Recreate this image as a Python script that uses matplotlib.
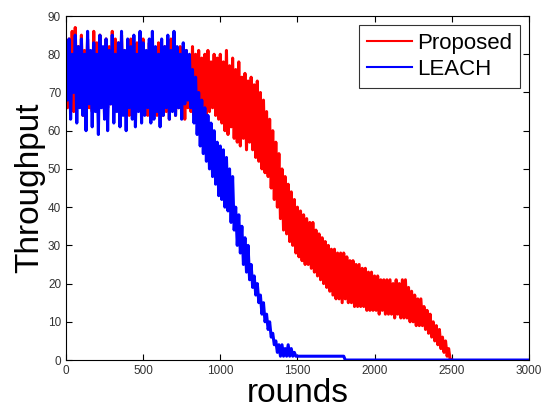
import numpy as np
import matplotlib
matplotlib.use('Agg')
import matplotlib.pyplot as plt

plt.rcParams['font.family'] = ['Liberation Sans', 'DejaVu Sans']

# valores, um a cada 10 rounds
proposed = [
    80, 66, 84, 68, 86, 65, 87, 70, 82, 67,
    85, 64, 81, 68, 84, 66, 80, 65, 86, 67,
    83, 65, 85, 68, 81, 64, 84, 66, 82, 67,
    86, 65, 84, 68, 83, 64, 85, 66, 81, 67,
    82, 64, 84, 66, 80, 63, 83, 67, 81, 65,
    84, 66, 79, 64, 83, 65, 81, 67, 80, 64,
    83, 66, 79, 64, 82, 65, 80, 63, 84, 66,
    81, 64, 79, 66, 82, 65, 80, 63, 81, 66,
    79, 65, 82, 64, 80, 66, 81, 64, 79, 65,
    80, 64, 81, 65, 78, 66, 80, 64, 79, 63,
    80, 62, 78, 60, 81, 59, 77, 61, 79, 58,
    76, 57, 78, 56, 74, 58, 75, 55, 73, 57,
    74, 55, 72, 53, 73, 52, 70, 50, 68, 49,
    65, 48, 63, 45, 60, 42, 57, 40, 54, 37,
    50, 34, 48, 33, 46, 31, 44, 30, 42, 28,
    40, 27, 39, 26, 38, 25, 37, 25, 36, 24,
    36, 23, 34, 22, 33, 21, 32, 20, 31, 19,
    30, 18, 29, 17, 29, 16, 28, 16, 28, 15,
    28, 16, 27, 15, 26, 15, 26, 14, 25, 14,
    25, 14, 24, 14, 24, 13, 23, 13, 23, 13,
    22, 13, 22, 12, 21, 13, 21, 12, 21, 12,
    21, 12, 20, 11, 21, 12, 20, 11, 21, 11,
    21, 11, 19, 10, 18, 10, 17, 9, 16, 9,
    16, 9, 14, 8, 13, 7, 12, 6, 10, 5,
    9, 4, 8, 3, 6, 2, 5, 1, 3, 0,
    0,
]
leach = [
    83, 68, 84, 63, 80, 70, 85, 62, 82, 66,
    84, 64, 80, 60, 86, 67, 81, 61, 83, 65,
    80, 59, 85, 66, 82, 63, 84, 60, 81, 67,
    85, 62, 80, 65, 83, 61, 86, 64, 81, 60,
    84, 66, 82, 63, 85, 61, 80, 65, 86, 62,
    83, 64, 81, 66, 84, 62, 86, 63, 82, 65,
    80, 61, 84, 64, 82, 66, 85, 63, 81, 65,
    86, 64, 82, 66, 80, 63, 83, 67, 81, 68,
    80, 66, 76, 62, 74, 59, 70, 56, 68, 54,
    66, 52, 64, 50, 62, 48, 60, 46, 57, 43,
    56, 42, 55, 40, 53, 39, 50, 36, 48, 34,
    40, 30, 38, 28, 35, 25, 32, 23, 30, 21,
    25, 19, 22, 17, 20, 15, 17, 12, 15, 10,
    12, 8, 10, 6, 7, 4, 5, 2, 4, 1,
    4, 1, 3, 1, 4, 1, 3, 1, 2, 1,
]
# cauda do LEACH depois de 1500 rounds
leach_tail_rounds = [1500, 1800, 1810, 3000]
leach_tail = [1, 1, 0, 0]

proposed_rounds = np.arange(len(proposed)) * 10
leach_rounds = np.concatenate([np.arange(len(leach)) * 10, leach_tail_rounds])
leach_all = leach + leach_tail

fig = plt.figure(figsize=(5.43, 4.11), dpi=100)
ax = fig.add_axes([0.1215, 0.124, 0.8525, 0.837])

ax.plot(proposed_rounds, proposed, color='#ff0000', lw=2.2, label='Proposed')
ax.plot(leach_rounds, leach_all, color='#0000ff', lw=2.2, label='LEACH')

ax.set_xlim(0, 3000)
ax.set_ylim(0, 90)
ax.set_xticks(range(0, 3001, 500))
ax.set_yticks(range(0, 91, 10))
ax.tick_params(direction='in', top=True, right=True, labelsize=8.5,
               labelcolor='#333333', length=4)
for s in ax.spines.values():
    s.set_linewidth(0.8)

ax.set_xlabel('rounds', fontsize=24, labelpad=1)
ax.set_ylabel('Throughput', fontsize=24, labelpad=2)

leg = ax.legend(loc='upper right', fontsize=16, frameon=True, fancybox=False,
                handlelength=2.0, handletextpad=0.25, borderpad=0.35,
                labelspacing=0.25, borderaxespad=0.4)
leg.get_frame().set_edgecolor('black')
leg.get_frame().set_linewidth(0.8)
for h in leg.get_lines():
    h.set_linewidth(1.5)

fig.savefig('out.png', dpi=100)
